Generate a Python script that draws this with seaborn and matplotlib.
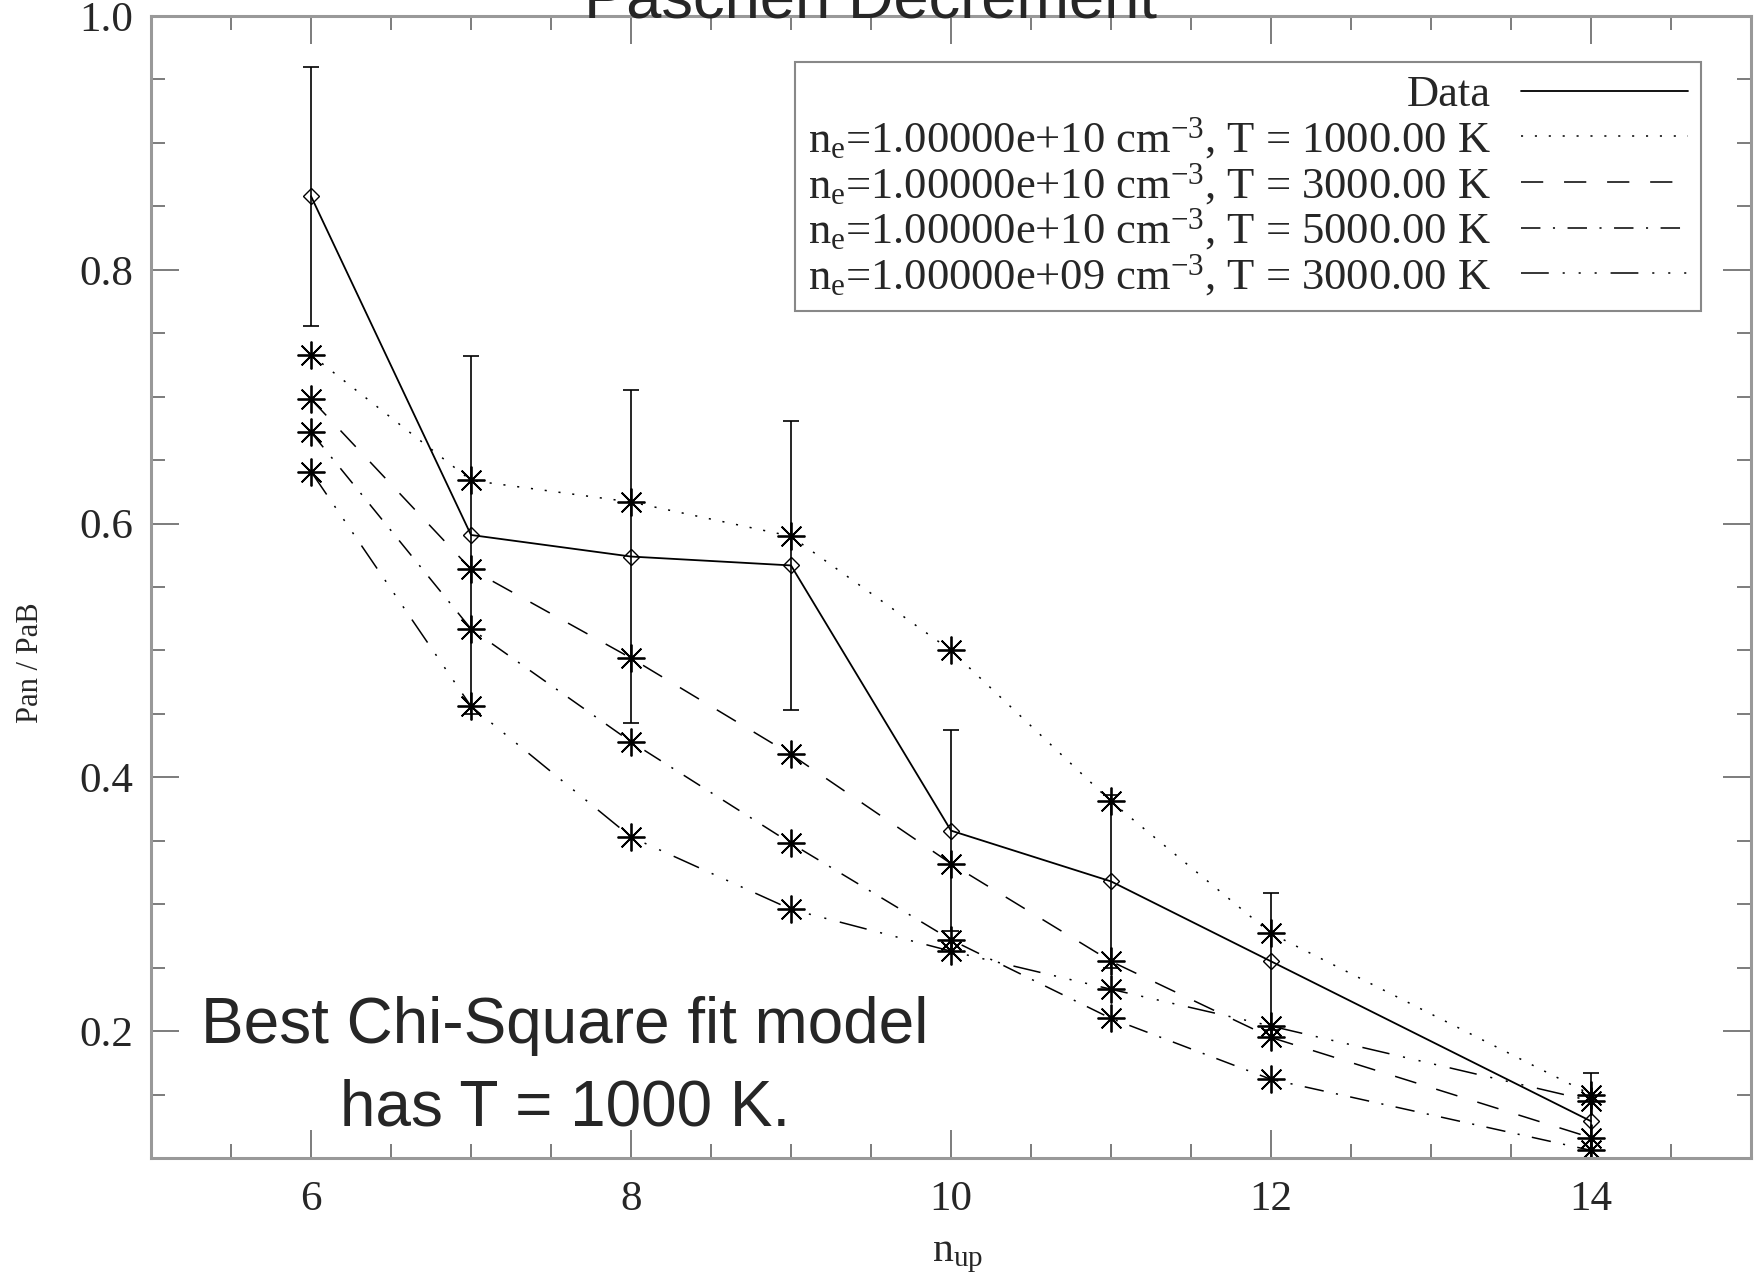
import matplotlib
matplotlib.use("Agg")
import matplotlib.pyplot as plt
import seaborn as sns
import numpy as np
from matplotlib.lines import Line2D
from matplotlib.ticker import MultipleLocator, FormatStrFormatter

# Paschen decrement: Pa(n) / Pa-beta against upper level
n_up = [6, 7, 8, 9, 10, 11, 12, 14]
data_ratio = [0.858, 0.591, 0.574, 0.567, 0.358, 0.318, 0.255, 0.129]
data_err = [0.102, 0.141, 0.131, 0.114, 0.079, 0.068, 0.054, 0.038]

model_ne10_t1000 = [0.733, 0.634, 0.617, 0.590, 0.500, 0.381, 0.277, 0.150]
model_ne10_t3000 = [0.698, 0.564, 0.494, 0.418, 0.332, 0.255, 0.195, 0.116]
model_ne10_t5000 = [0.672, 0.517, 0.428, 0.348, 0.272, 0.210, 0.162, 0.106]
model_ne9_t3000 = [0.641, 0.456, 0.353, 0.296, 0.263, 0.233, 0.204, 0.145]

labels = [
    "Data",
    r"n$_\mathrm{e}$=1.00000e+10 cm$^{-3}$, T = 1000.00 K",
    r"n$_\mathrm{e}$=1.00000e+10 cm$^{-3}$, T = 3000.00 K",
    r"n$_\mathrm{e}$=1.00000e+10 cm$^{-3}$, T = 5000.00 K",
    r"n$_\mathrm{e}$=1.00000e+09 cm$^{-3}$, T = 3000.00 K",
]

sns.set_theme(style="ticks")
plt.rcParams["font.family"] = ["Liberation Serif", "DejaVu Serif"]
plt.rcParams["mathtext.fontset"] = "custom"
plt.rcParams["mathtext.rm"] = "Liberation Serif"
plt.rcParams["mathtext.it"] = "Liberation Serif:italic"
plt.rcParams["lines.scale_dashes"] = False

styles = [
    (0, (1.5, 8.5)),
    (0, (16, 15)),
    (0, (14, 9, 1.5, 9)),
    (0, (20, 10, 1.5, 10, 1.5, 10, 1.5, 10)),
]
models = [model_ne10_t1000, model_ne10_t3000, model_ne10_t5000, model_ne9_t3000]

fig = plt.figure(figsize=(17.55, 12.84), dpi=100)
ax = fig.add_axes([151 / 1755, 1 - 1158 / 1284, 1600 / 1755, 1142 / 1284])

ax.errorbar(n_up, data_ratio, yerr=data_err, fmt="none", ecolor="black",
            elinewidth=1.2, capsize=5.5, capthick=1.2)
sns.lineplot(x=n_up, y=data_ratio, ax=ax, color="black", linewidth=1.3,
             marker="D", markersize=8, markerfacecolor="none",
             markeredgecolor="black", markeredgewidth=1, errorbar=None)

for vals, ls in zip(models, styles):
    sns.lineplot(x=n_up, y=vals, ax=ax, color="black", linewidth=1.1,
                 linestyle=ls, marker=(8, 2, 0), markersize=20,
                 markeredgecolor="black", markeredgewidth=1.3, errorbar=None)

handles = [Line2D([], [], color="black", lw=1.3, ls="-")]
handles += [Line2D([], [], color="black", lw=1.1, ls=ls) for ls in styles]
leg = ax.legend(handles, labels, loc="upper right",
                bbox_to_anchor=(1701 / 1755, 1 - 62 / 1284),
                bbox_transform=fig.transFigure, borderaxespad=0,
                markerfirst=False, fontsize=32, handlelength=3.75,
                handletextpad=0.68, labelspacing=0.0, borderpad=0.3,
                fancybox=False, framealpha=1, edgecolor="#888888")
leg.get_frame().set_linewidth(1.5)

ax.set_xlim(5, 15)
ax.set_ylim(0.1, 1.0)
ax.xaxis.set_major_locator(MultipleLocator(2))
ax.xaxis.set_minor_locator(MultipleLocator(0.5))
ax.yaxis.set_major_locator(MultipleLocator(0.2))
ax.yaxis.set_minor_locator(MultipleLocator(0.05))
ax.yaxis.set_major_formatter(FormatStrFormatter("%.1f"))
ax.tick_params(which="both", direction="in", top=True, right=True, color="#666666")
ax.tick_params(which="major", length=20, width=1.2, labelsize=31)
ax.tick_params(which="minor", length=10, width=1.2)
ax.tick_params(axis="x", pad=16)
ax.tick_params(axis="y", pad=13)
for s in ax.spines.values():
    s.set_color("#999999")
    s.set_linewidth(2.2)

ax.set_ylabel("Pan / PaB", fontsize=22)
ax.yaxis.set_label_coords(-0.066, 0.434)
ax.set_xlabel(r"n$_\mathrm{up}$", fontsize=30)
ax.xaxis.set_label_coords(0.504, -0.069)

fig.text(0.496, 1 - 17 / 1284, "Paschen Decrement", ha="center", va="baseline",
         fontsize=45.5, family="Liberation Sans")
fig.text(565 / 1755, 1 - 1043 / 1284, "Best Chi-Square fit model", ha="center",
         va="baseline", fontsize=46, family="Liberation Sans")
fig.text(565 / 1755, 1 - 1125 / 1284, "has T = 1000 K.", ha="center",
         va="baseline", fontsize=46, family="Liberation Sans")

fig.savefig("out.png", dpi=100)
